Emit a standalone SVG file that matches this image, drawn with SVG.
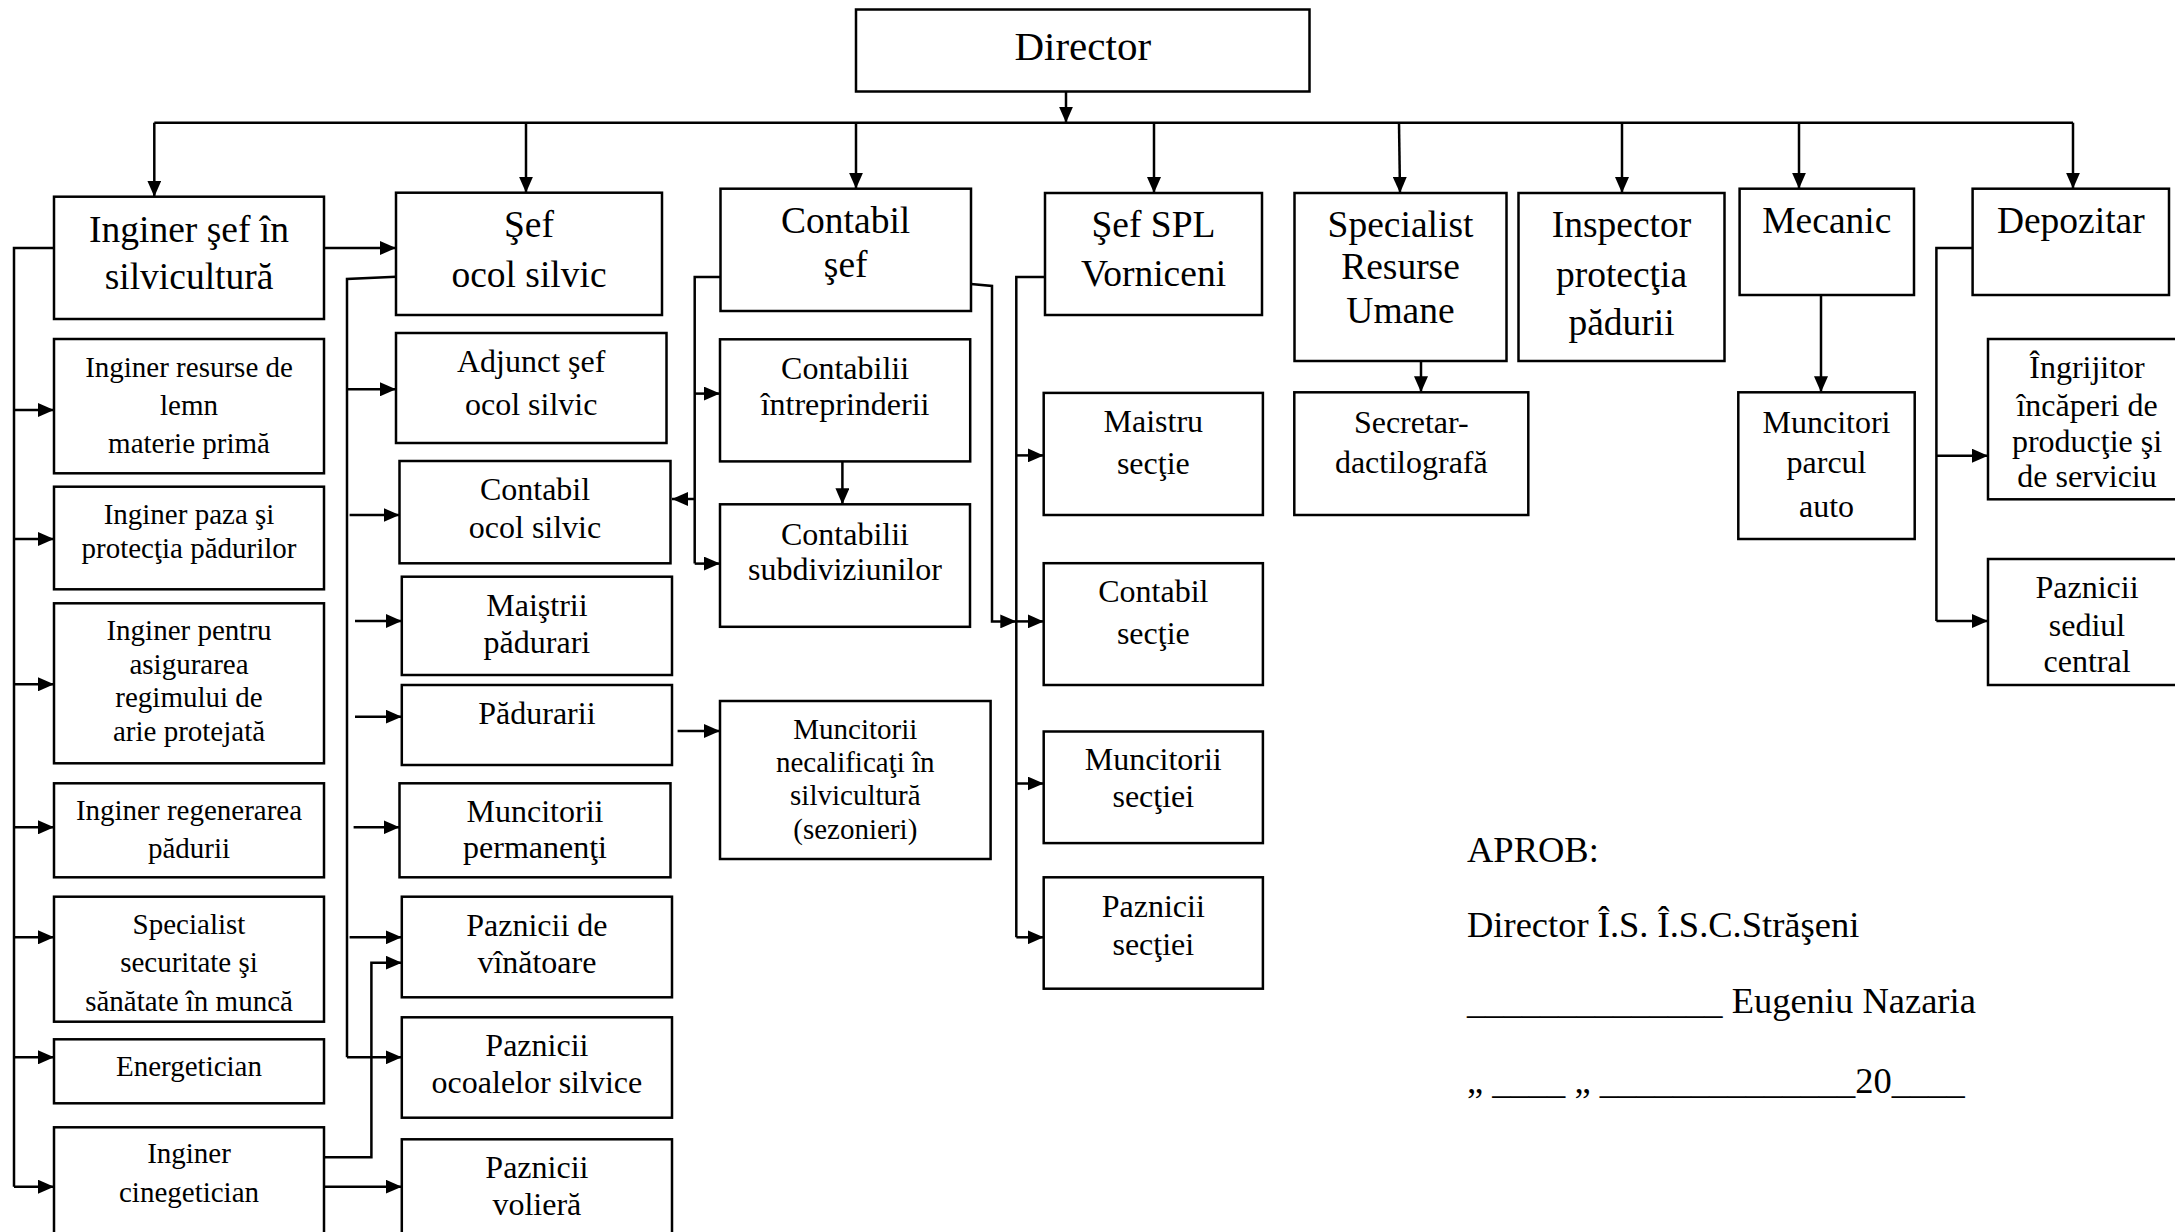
<svg xmlns="http://www.w3.org/2000/svg" width="2175" height="1232" viewBox="0 0 2175 1232">
<style>
.box{fill:#fff;stroke:#000;stroke-width:2.5}
.c{fill:none;stroke:#000;stroke-width:2.5}
.a{marker-end:url(#ah)}
text{font-family:"Liberation Serif","Times New Roman",serif;fill:#000;text-anchor:middle}
.t0{font-size:41px}
.t1{font-size:37.5px}
.t2{font-size:29px}
.t3{font-size:32px}
.ap{font-size:36.5px;text-anchor:start}
</style>
<defs>
<marker id="ah" markerUnits="userSpaceOnUse" markerWidth="16" markerHeight="14" refX="16" refY="7" orient="auto">
<path d="M0,0 L16,7 L0,14 z" fill="#000"/>
</marker>
</defs>
<rect width="2175" height="1232" fill="#fff"/>

<g id="nodes">
<g id="director"><rect class="box" x="856" y="9.5" width="453.5" height="82"/><text class="t0" x="1082.75" y="60">Director</text></g>

<g id="inginer-sef"><rect class="box" x="54" y="196.7" width="270" height="122.3"/><text class="t1" x="189" y="241.7">Inginer şef în</text><text class="t1" x="189" y="289.3">silvicultură</text></g>
<g id="sef-ocol"><rect class="box" x="396" y="192.7" width="266" height="122.3"/><text class="t1" x="529" y="237.3">Şef</text><text class="t1" x="529" y="286.7">ocol silvic</text></g>
<g id="contabil-sef"><rect class="box" x="720.5" y="188.7" width="250.5" height="122.3"/><text class="t1" x="845.7" y="233.3">Contabil</text><text class="t1" x="845.7" y="276.7">şef</text></g>
<g id="sef-spl"><rect class="box" x="1045" y="193" width="217" height="122"/><text class="t1" x="1153.5" y="237.3">Şef SPL</text><text class="t1" x="1153.5" y="286">Vorniceni</text></g>
<g id="specialist-ru"><rect class="box" x="1294.5" y="193" width="212" height="168"/><text class="t1" x="1400.5" y="237.3">Specialist</text><text class="t1" x="1400.5" y="279.3">Resurse</text><text class="t1" x="1400.5" y="323.3">Umane</text></g>
<g id="inspector"><rect class="box" x="1518.5" y="193" width="206" height="168"/><text class="t1" x="1621.5" y="237.3">Inspector</text><text class="t1" x="1621.5" y="286.7">protecţia</text><text class="t1" x="1621.5" y="335">pădurii</text></g>
<g id="mecanic"><rect class="box" x="1739.6" y="188.7" width="174.4" height="106.3"/><text class="t1" x="1826.8" y="233.3">Mecanic</text></g>
<g id="depozitar"><rect class="box" x="1972.6" y="188.7" width="196.4" height="106.3"/><text class="t1" x="2070.8" y="233.3">Depozitar</text></g>

<g id="inginer-resurse"><rect class="box" x="54" y="339" width="270" height="134.3"/><text class="t2" x="189" y="376.7">Inginer resurse de</text><text class="t2" x="189" y="415">lemn</text><text class="t2" x="189" y="453.3">materie primă</text></g>
<g id="inginer-paza"><rect class="box" x="54" y="486.7" width="270" height="102.6"/><text class="t2" x="189" y="524">Inginer paza şi</text><text class="t2" x="189" y="558.3">protecţia pădurilor</text></g>
<g id="inginer-arie"><rect class="box" x="54" y="603.3" width="270" height="160"/><text class="t2" x="189" y="640">Inginer pentru</text><text class="t2" x="189" y="674">asigurarea</text><text class="t2" x="189" y="706.7">regimului de</text><text class="t2" x="189" y="740.7">arie protejată</text></g>
<g id="inginer-regenerare"><rect class="box" x="54" y="783.3" width="270" height="94"/><text class="t2" x="189" y="820">Inginer regenerarea</text><text class="t2" x="189" y="858.3">pădurii</text></g>
<g id="specialist-securitate"><rect class="box" x="54" y="896.7" width="270" height="125"/><text class="t2" x="189" y="934">Specialist</text><text class="t2" x="189" y="971.7">securitate şi</text><text class="t2" x="189" y="1010.7">sănătate în muncă</text></g>
<g id="energetician"><rect class="box" x="54" y="1039.3" width="270" height="64"/><text class="t2" x="189" y="1076">Energetician</text></g>
<g id="inginer-cinegetician"><rect class="box" x="54" y="1127.3" width="270" height="120"/><text class="t2" x="189" y="1163.3">Inginer</text><text class="t2" x="189" y="1201.7">cinegetician</text></g>

<g id="adjunct"><rect class="box" x="396" y="333" width="270.5" height="110"/><text class="t3" x="531.2" y="371.7">Adjunct şef</text><text class="t3" x="531.2" y="415">ocol silvic</text></g>
<g id="contabil-ocol"><rect class="box" x="399.5" y="461" width="271" height="102.3"/><text class="t3" x="535" y="500">Contabil</text><text class="t3" x="535" y="538.3">ocol silvic</text></g>
<g id="maistrii"><rect class="box" x="401.8" y="576.7" width="270.2" height="98.3"/><text class="t3" x="536.9" y="616">Maiştrii</text><text class="t3" x="536.9" y="653.3">pădurari</text></g>
<g id="padurarii"><rect class="box" x="401.8" y="685" width="270.2" height="80"/><text class="t3" x="536.9" y="724">Pădurarii</text></g>
<g id="muncitorii-permanenti"><rect class="box" x="399.5" y="783.3" width="271" height="94"/><text class="t3" x="535" y="821.7">Muncitorii</text><text class="t3" x="535" y="858.3">permanenţi</text></g>
<g id="paznicii-vanatoare"><rect class="box" x="401.8" y="896.7" width="270.2" height="100.6"/><text class="t3" x="536.9" y="935.7">Paznicii de</text><text class="t3" x="536.9" y="973.3">vînătoare</text></g>
<g id="paznicii-ocoale"><rect class="box" x="401.8" y="1017.3" width="270.2" height="100.4"/><text class="t3" x="536.9" y="1056">Paznicii</text><text class="t3" x="536.9" y="1093.3">ocoalelor silvice</text></g>
<g id="paznicii-voliera"><rect class="box" x="401.8" y="1139.3" width="270.2" height="110"/><text class="t3" x="536.9" y="1178.3">Paznicii</text><text class="t3" x="536.9" y="1215">volieră</text></g>

<g id="contabilii-intreprinderii"><rect class="box" x="720" y="339.3" width="250.2" height="122.1"/><text class="t3" x="845.1" y="378.6">Contabilii</text><text class="t3" x="845.1" y="415">întreprinderii</text></g>
<g id="contabilii-subdiviziunilor"><rect class="box" x="720" y="504.3" width="250" height="122.5"/><text class="t3" x="845" y="544.6">Contabilii</text><text class="t3" x="845" y="580.4">subdiviziunilor</text></g>
<g id="muncitorii-necalificati"><rect class="box" x="720" y="701" width="270.6" height="158"/><text class="t2" x="855.3" y="738.6">Muncitorii</text><text class="t2" x="855.3" y="772">necalificaţi în</text><text class="t2" x="855.3" y="805.4">silvicultură</text><text class="t2" x="855.3" y="839.3">(sezonieri)</text></g>

<g id="maistru-sectie"><rect class="box" x="1043.7" y="392.9" width="219.2" height="122.1"/><text class="t3" x="1153.3" y="432">Maistru</text><text class="t3" x="1153.3" y="474">secţie</text></g>
<g id="contabil-sectie"><rect class="box" x="1043.7" y="563.2" width="219.2" height="121.8"/><text class="t3" x="1153.3" y="601.8">Contabil</text><text class="t3" x="1153.3" y="643.6">secţie</text></g>
<g id="muncitorii-sectiei"><rect class="box" x="1043.7" y="731.5" width="219.2" height="111.6"/><text class="t3" x="1153.3" y="769.6">Muncitorii</text><text class="t3" x="1153.3" y="807">secţiei</text></g>
<g id="paznicii-sectiei"><rect class="box" x="1043.7" y="877.3" width="219.2" height="111.4"/><text class="t3" x="1153.3" y="916.7">Paznicii</text><text class="t3" x="1153.3" y="955">secţiei</text></g>

<g id="secretar"><rect class="box" x="1294.3" y="392.3" width="234" height="122.7"/><text class="t3" x="1411.3" y="433.3">Secretar-</text><text class="t3" x="1411.3" y="473.3">dactilografă</text></g>
<g id="muncitori-auto"><rect class="box" x="1738.3" y="392.3" width="176.4" height="146.7"/><text class="t3" x="1826.5" y="432.7">Muncitori</text><text class="t3" x="1826.5" y="473.3">parcul</text><text class="t3" x="1826.5" y="516.7">auto</text></g>
<g id="ingrijitor"><rect class="box" x="1988" y="339" width="198" height="160.3"/><text class="t3" x="2087" y="378.3">Îngrijitor</text><text class="t3" x="2087" y="416">încăperi de</text><text class="t3" x="2087" y="451.7">producţie şi</text><text class="t3" x="2087" y="486.7">de serviciu</text></g>
<g id="paznicii-sediu"><rect class="box" x="1988" y="559" width="198" height="126"/><text class="t3" x="2087" y="598.3">Paznicii</text><text class="t3" x="2087" y="636">sediul</text><text class="t3" x="2087" y="671.7">central</text></g>
</g>

<g id="connectors">
<line class="c a" x1="1066" y1="91.7" x2="1066" y2="122.7"/>
<line class="c" x1="154.3" y1="122.7" x2="2073" y2="122.7"/>
<line class="c a" x1="154.3" y1="122.7" x2="154.3" y2="196.7"/>
<line class="c a" x1="526" y1="122.7" x2="526" y2="192.7"/>
<line class="c a" x1="856" y1="122.7" x2="856" y2="188.7"/>
<line class="c a" x1="1154" y1="122.7" x2="1154" y2="193"/>
<line class="c a" x1="1399" y1="122.7" x2="1400" y2="193"/>
<line class="c a" x1="1622" y1="122.7" x2="1622" y2="193"/>
<line class="c a" x1="1799" y1="122.7" x2="1799" y2="188.7"/>
<line class="c a" x1="2073" y1="122.7" x2="2073" y2="188.7"/>

<line class="c a" x1="324" y1="248" x2="396" y2="248"/>
<polyline class="c" points="54,248 14,248 14,1186.7"/>
<line class="c a" x1="14" y1="410" x2="54" y2="410"/>
<line class="c a" x1="14" y1="539" x2="54" y2="539"/>
<line class="c a" x1="14" y1="684.3" x2="54" y2="684.3"/>
<line class="c a" x1="14" y1="827.3" x2="54" y2="827.3"/>
<line class="c a" x1="14" y1="937.3" x2="54" y2="937.3"/>
<line class="c a" x1="14" y1="1057.3" x2="54" y2="1057.3"/>
<line class="c a" x1="14" y1="1186.7" x2="54" y2="1186.7"/>

<polyline class="c" points="396,276.7 347,279 347,1057.3"/>
<line class="c a" x1="347" y1="389.3" x2="396" y2="389.3"/>
<line class="c a" x1="349.6" y1="515" x2="399.5" y2="515"/>
<line class="c a" x1="355" y1="621" x2="401.8" y2="621"/>
<line class="c a" x1="355" y1="716.7" x2="401.8" y2="716.7"/>
<line class="c a" x1="353.6" y1="827.3" x2="399.5" y2="827.3"/>
<line class="c a" x1="349.6" y1="937.3" x2="401.8" y2="937.3"/>
<line class="c a" x1="347" y1="1057.3" x2="401.8" y2="1057.3"/>
<polyline class="c a" points="324,1157.3 371.4,1157.3 371.4,962.7 401.8,962.7"/>
<line class="c a" x1="324" y1="1186.7" x2="401.8" y2="1186.7"/>
<line class="c a" x1="677.6" y1="731" x2="720" y2="731"/>

<polyline class="c" points="720.5,277 694.7,277 694.7,563.6"/>
<line class="c a" x1="694.7" y1="393.6" x2="720" y2="393.6"/>
<line class="c a" x1="694.7" y1="563.6" x2="720" y2="563.6"/>
<line class="c a" x1="694.7" y1="499" x2="672" y2="499"/>
<line class="c a" x1="842.4" y1="461.4" x2="842.4" y2="504.3"/>
<polyline class="c a" points="971,284 992,286 992,621.4 1016.3,621.4"/>

<polyline class="c" points="1045,277 1016.3,277 1016.3,937.3"/>
<line class="c a" x1="1016.3" y1="455.4" x2="1043.7" y2="455.4"/>
<line class="c a" x1="1016.3" y1="621.4" x2="1043.7" y2="621.4"/>
<line class="c a" x1="1016.3" y1="783.5" x2="1043.7" y2="783.5"/>
<line class="c a" x1="1016.3" y1="937.3" x2="1043.7" y2="937.3"/>

<line class="c a" x1="1421" y1="361" x2="1421" y2="392.3"/>
<line class="c a" x1="1821" y1="295" x2="1821" y2="392.3"/>
<polyline class="c" points="1972.6,248 1936.4,248 1936.4,621"/>
<line class="c a" x1="1936.4" y1="455.7" x2="1988" y2="455.7"/>
<line class="c a" x1="1936.4" y1="621" x2="1988" y2="621"/>
</g>

<g id="approval">
<text class="ap" x="1467" y="861.7">APROB:</text>
<text class="ap" x="1467" y="936.7">Director Î.S. Î.S.C.Străşeni</text>
<text class="ap" x="1467" y="1013.3">______________ Eugeniu Nazaria</text>
<text class="ap" x="1467" y="1093.3">„ ____ „ ______________20____</text>
</g>
</svg>
